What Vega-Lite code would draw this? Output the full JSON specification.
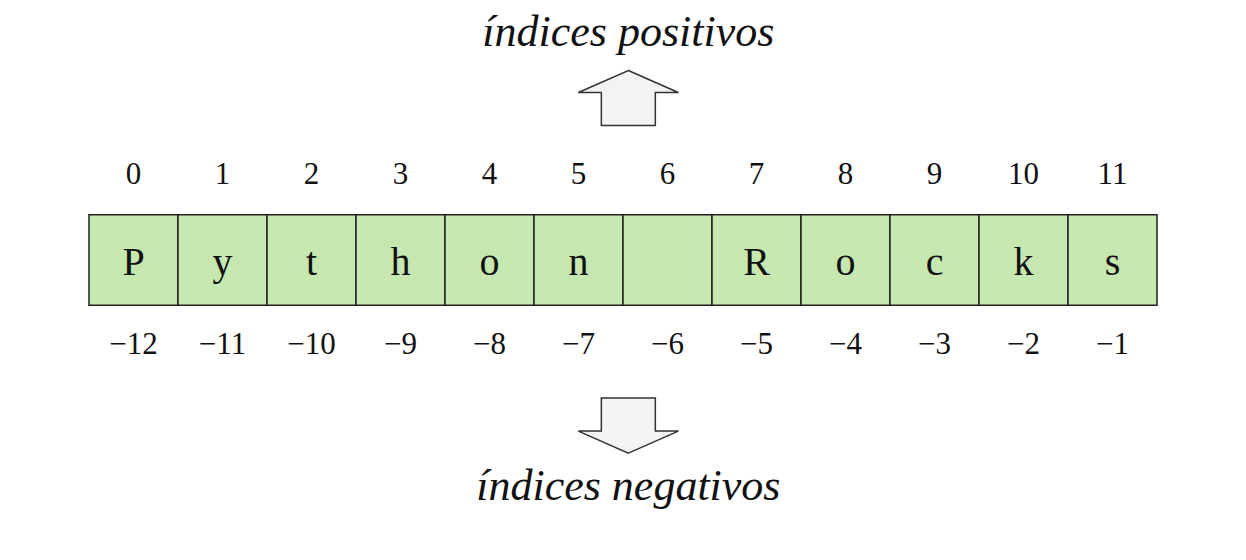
{
  "$schema": "https://vega.github.io/schema/vega-lite/v6.json",
  "width": 1246,
  "height": 560,
  "autosize": {"type": "none"},
  "padding": 0,
  "background": "white",
  "config": {"view": {"stroke": null}},
  "datasets": {
    "cells": [
      {"i": 0, "ch": "P", "pos": "0", "neg": "−12"},
      {"i": 1, "ch": "y", "pos": "1", "neg": "−11"},
      {"i": 2, "ch": "t", "pos": "2", "neg": "−10"},
      {"i": 3, "ch": "h", "pos": "3", "neg": "−9"},
      {"i": 4, "ch": "o", "pos": "4", "neg": "−8"},
      {"i": 5, "ch": "n", "pos": "5", "neg": "−7"},
      {"i": 6, "ch": " ", "pos": "6", "neg": "−6"},
      {"i": 7, "ch": "R", "pos": "7", "neg": "−5"},
      {"i": 8, "ch": "o", "pos": "8", "neg": "−4"},
      {"i": 9, "ch": "c", "pos": "9", "neg": "−3"},
      {"i": 10, "ch": "k", "pos": "10", "neg": "−2"},
      {"i": 11, "ch": "s", "pos": "11", "neg": "−1"}
    ],
    "labels": [
      {"x": 6.06, "y": 35, "t": "índices positivos"},
      {"x": 6.06, "y": 522, "t": "índices negativos"}
    ],
    "arrows": [
      {"x": 6.06, "y": 105, "dir": "up"},
      {"x": 6.06, "y": 456, "dir": "down"}
    ]
  },
  "layer": [
    {
      "data": {"name": "cells"},
      "transform": [{"calculate": "datum.i + 1", "as": "i2"}, {"calculate": "datum.i + 0.5", "as": "c"}],
      "layer": [
        {
          "mark": {"type": "rect", "fill": "#c6e8b0", "stroke": "#222", "strokeWidth": 1.5},
          "encoding": {
            "x": {"field": "i", "type": "quantitative", "scale": {"domain": [-0.22, 12.24]}, "axis": null},
            "x2": {"field": "i2"},
            "y": {"datum": 230, "type": "quantitative", "scale": {"domain": [0, 560], "reverse": true}, "axis": null},
            "y2": {"datum": 327}
          }
        },
        {
          "mark": {"type": "text", "font": "Liberation Serif", "fontSize": 40, "baseline": "middle", "color": "#111"},
          "encoding": {
            "x": {"field": "c", "type": "quantitative"},
            "y": {"datum": 282, "type": "quantitative"},
            "text": {"field": "ch"}
          }
        },
        {
          "mark": {"type": "text", "font": "Liberation Serif", "fontSize": 31, "baseline": "middle", "color": "#111"},
          "encoding": {
            "x": {"field": "c", "type": "quantitative"},
            "y": {"datum": 187, "type": "quantitative"},
            "text": {"field": "pos"}
          }
        },
        {
          "mark": {"type": "text", "font": "Liberation Serif", "fontSize": 31, "baseline": "middle", "color": "#111"},
          "encoding": {
            "x": {"field": "c", "type": "quantitative"},
            "y": {"datum": 370, "type": "quantitative"},
            "text": {"field": "neg"}
          }
        }
      ]
    },
    {
      "data": {"name": "labels"},
      "mark": {"type": "text", "font": "Liberation Serif", "fontSize": 44, "fontStyle": "italic", "baseline": "middle", "color": "#111"},
      "encoding": {
        "x": {"field": "x", "type": "quantitative"},
        "y": {"field": "y", "type": "quantitative"},
        "text": {"field": "t"}
      }
    },
    {
      "data": {"name": "arrows"},
      "transform": [{"filter": "datum.dir == 'up'"}],
      "mark": {"type": "point", "filled": true, "fill": "#f3f3f3", "stroke": "#333", "strokeWidth": 1.5, "opacity": 1, "size": 10000,
        "shape": "M0,-0.55 L1,-0.11 L0.54,-0.11 L0.54,0.55 L-0.54,0.55 L-0.54,-0.11 L-1,-0.11 Z"},
      "encoding": {
        "x": {"field": "x", "type": "quantitative"},
        "y": {"field": "y", "type": "quantitative"}
      }
    },
    {
      "data": {"name": "arrows"},
      "transform": [{"filter": "datum.dir == 'down'"}],
      "mark": {"type": "point", "filled": true, "fill": "#f3f3f3", "stroke": "#333", "strokeWidth": 1.5, "opacity": 1, "size": 10000,
        "shape": "M0,0.55 L1,0.11 L0.54,0.11 L0.54,-0.55 L-0.54,-0.55 L-0.54,0.11 L-1,0.11 Z"},
      "encoding": {
        "x": {"field": "x", "type": "quantitative"},
        "y": {"field": "y", "type": "quantitative"}
      }
    }
  ]
}
